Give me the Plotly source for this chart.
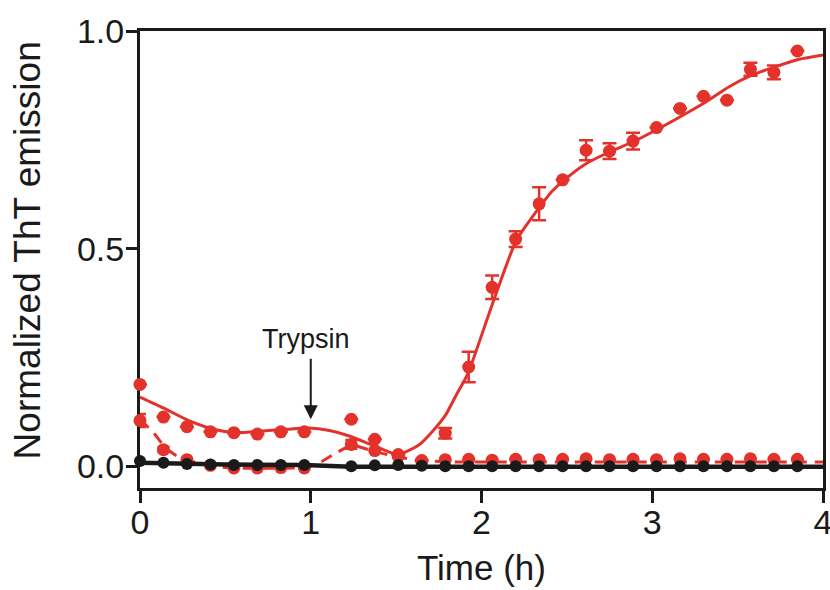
import plotly.graph_objects as go

# ---- data ----
time_h = [0, 0.1375, 0.275, 0.4125, 0.55, 0.6875, 0.825, 0.9625,
          1.2375, 1.375, 1.5125, 1.65, 1.7875, 1.925, 2.0625, 2.2,
          2.3375, 2.475, 2.6125, 2.75, 2.8875, 3.025, 3.1625, 3.3,
          3.4375, 3.575, 3.7125, 3.85]

red_solid = [0.188, 0.113, 0.091, 0.079, 0.077, 0.074, 0.079, 0.079,
             0.108, 0.062, 0.027, 0.013, 0.076, 0.228, 0.411, 0.522,
             0.603, 0.658, 0.726, 0.724, 0.747, 0.778, 0.822, 0.850,
             0.841, 0.912, 0.905, 0.954]
red_solid_err = [0, 0, 0, 0, 0, 0, 0, 0,
                 0, 0, 0, 0, 0.012, 0.035, 0.027, 0.018,
                 0.038, 0, 0.023, 0.018, 0.019, 0, 0, 0,
                 0, 0.015, 0.016, 0]

red_dashed = [0.105, 0.038, 0.015, 0.002, -0.004, -0.004, -0.003, -0.004,
              0.050, 0.036, 0.023, 0.012, 0.015, 0.016, 0.014, 0.016,
              0.015, 0.016, 0.017, 0.015, 0.016, 0.015, 0.017, 0.016,
              0.016, 0.017, 0.016, 0.016]
red_dashed_err = [0.015, 0.006, 0, 0, 0, 0, 0, 0,
                  0.010, 0, 0, 0, 0, 0, 0, 0,
                  0, 0, 0, 0, 0, 0, 0, 0,
                  0, 0, 0, 0]

black = [0.012, 0.008, 0.005, 0.004, 0.003, 0.003, 0.003, 0.003,
         0.000, 0.002, 0.003, 0.001, 0.000, 0.000, 0.000, 0.000,
         0.000, 0.000, 0.000, 0.000, 0.000, 0.000, 0.000, 0.000,
         0.000, 0.000, 0.000, 0.000]

# fitted / guide curves
fit_t = [0, 0.136, 0.29, 0.43, 0.565, 0.72, 0.86, 0.99, 1.11, 1.23, 1.365,
         1.51, 1.637, 1.715, 1.79, 1.85, 1.92, 2.066, 2.203, 2.339, 2.416,
         2.495, 2.612, 2.749, 2.885, 3.02, 3.177, 3.314, 3.45, 3.587, 3.723,
         3.86, 4.0]
fit_solid = [0.159, 0.134, 0.104, 0.085, 0.077, 0.081, 0.085, 0.088, 0.082,
             0.069, 0.048, 0.027, 0.05, 0.081, 0.118, 0.162, 0.213, 0.375,
             0.518, 0.595, 0.633, 0.661, 0.695, 0.722, 0.745, 0.772, 0.806,
             0.837, 0.872, 0.899, 0.918, 0.935, 0.945]

dash_t = [0, 0.08, 0.15, 0.22, 0.3, 0.43, 0.56, 0.98, 1.07, 1.15, 1.24,
          1.38, 1.5, 1.64, 1.8, 4.0]
fit_dashed = [0.108, 0.077, 0.041, 0.022, 0.011, 0.0, -0.005, -0.004, 0.012,
              0.031, 0.05, 0.033, 0.022, 0.013, 0.01, 0.01]

black_t = [0, 0.5, 0.9625, 1.2375, 4.0]
fit_black = [0.008, 0.004, 0.003, -0.001, -0.001]

y_ticks = [0, 0.5, 1.0]
y_ticklabels = ["0.0", "0.5", "1.0"]
x_ticks = [0, 1, 2, 3, 4]

RED = "#E3322B"
BLK = "#1a1a1a"
FONT = "Arial, Liberation Sans, sans-serif"

fig = go.Figure()

fig.add_trace(go.Scatter(x=dash_t, y=fit_dashed, mode="lines",
                         line=dict(color=RED, width=3, dash="12px,8px"),
                         cliponaxis=False, showlegend=False))
fig.add_trace(go.Scatter(x=time_h, y=red_dashed, mode="markers",
                         marker=dict(color=RED, size=13),
                         error_y=dict(type="data", array=red_dashed_err, visible=True,
                                      color=RED, thickness=2.5, width=6),
                         cliponaxis=False, showlegend=False))
fig.add_trace(go.Scatter(x=fit_t, y=fit_solid, mode="lines",
                         line=dict(color=RED, width=3, shape="spline", smoothing=0.6),
                         cliponaxis=False, showlegend=False))
fig.add_trace(go.Scatter(x=time_h, y=red_solid, mode="markers",
                         marker=dict(color=RED, size=13),
                         error_y=dict(type="data", array=red_solid_err, visible=True,
                                      color=RED, thickness=2.5, width=7),
                         cliponaxis=False, showlegend=False))
fig.add_trace(go.Scatter(x=black_t, y=fit_black, mode="lines",
                         line=dict(color=BLK, width=4.5),
                         cliponaxis=False, showlegend=False))
fig.add_trace(go.Scatter(x=time_h, y=black, mode="markers",
                         marker=dict(color=BLK, size=12),
                         cliponaxis=False, showlegend=False))

fig.update_layout(
    width=830, height=590, autosize=False,
    margin=dict(l=140, r=7, t=31, b=102),
    paper_bgcolor="white", plot_bgcolor="white",
    font=dict(family=FONT, color=BLK),
    xaxis=dict(range=[0, 4], tickvals=x_ticks, showgrid=False, zeroline=False,
               automargin=False, ticklabeloverflow="allow", ticklabelstandoff=-10,
               showline=True, linecolor=BLK, linewidth=3, mirror=True,
               ticks="outside", ticklen=12, tickwidth=3, tickcolor=BLK,
               tickfont=dict(size=34, family=FONT, color=BLK), layer="below traces"),
    yaxis=dict(range=[-0.05, 1.0], tickvals=y_ticks, ticktext=y_ticklabels,
               showgrid=False, zeroline=False, automargin=False,
               ticklabeloverflow="allow", ticklabelstandoff=-5,
               showline=True, linecolor=BLK, linewidth=3, mirror=True,
               ticks="outside", ticklen=11, tickwidth=3, tickcolor=BLK,
               tickfont=dict(size=34, family=FONT, color=BLK), layer="below traces"),
    annotations=[
        dict(text="Normalized ThT emission", xref="paper", yref="paper",
             x=-0.1654, y=0.52, textangle=-90, showarrow=False,
             xanchor="center", yanchor="middle",
             font=dict(size=37, family=FONT, color=BLK)),
        dict(text="Time (h)", xref="paper", yref="paper",
             x=0.5, y=-0.175, showarrow=False, xanchor="center", yanchor="middle",
             font=dict(size=35, family=FONT, color=BLK)),
        dict(text="Trypsin", x=0.975, y=0.293, xref="x", yref="y", showarrow=False,
             xanchor="center", yanchor="middle",
             font=dict(size=27, family=FONT, color=BLK)),
        dict(text="", x=1.0, y=0.108, xref="x", yref="y", showarrow=True,
             ax=0, ay=-62, arrowhead=2, arrowsize=1.4, arrowwidth=2,
             arrowcolor=BLK),
    ],
)

fig.write_html("out.html",
               config={"displayModeBar": False, "responsive": False},
               post_script="document.body.style.margin='0';document.body.style.overflow='hidden';")
